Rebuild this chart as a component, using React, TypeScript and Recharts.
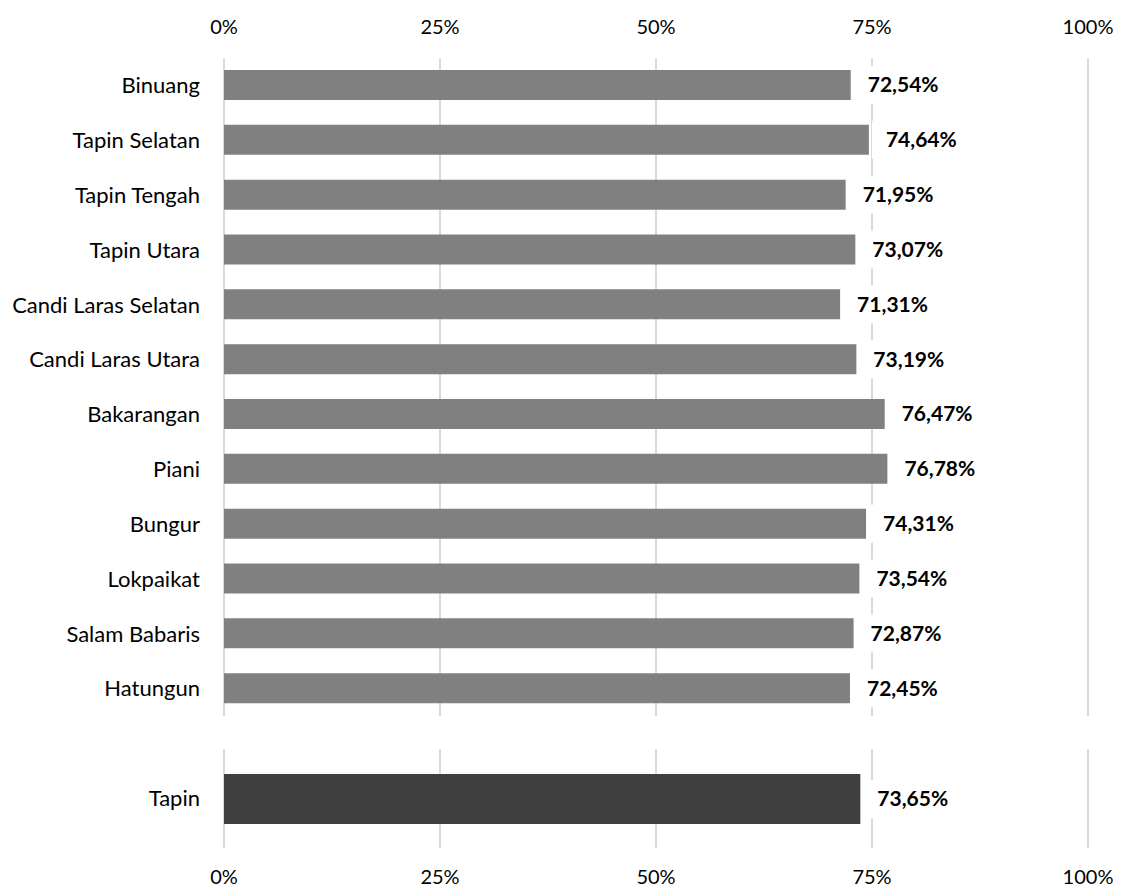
import React from 'react';
import { BarChart, Bar, XAxis, YAxis, CartesianGrid, LabelList } from 'recharts';

const kecamatan = [
  'Binuang',
  'Tapin Selatan',
  'Tapin Tengah',
  'Tapin Utara',
  'Candi Laras Selatan',
  'Candi Laras Utara',
  'Bakarangan',
  'Piani',
  'Bungur',
  'Lokpaikat',
  'Salam Babaris',
  'Hatungun',
];
const persen = [72.54, 74.64, 71.95, 73.07, 71.31, 73.19, 76.47, 76.78, 74.31, 73.54, 72.87, 72.45];

const kabupaten = ['Tapin'];
const persenKabupaten = [73.65];

const xTicks = [0, 25, 50, 75, 100];

const FONT = 'Lato, "Open Sans", sans-serif';

const topData = kecamatan.map((name, i) => ({ name, value: persen[i] }));
const bottomData = kabupaten.map((name, i) => ({ name, value: persenKabupaten[i] }));

const fmt = (v: number) => v.toFixed(2).replace('.', ',') + '%';

const tickStyle = { fontSize: 20, fill: '#000', fontFamily: FONT };
const catStyle = { fontSize: 22, fill: '#000', fontFamily: FONT };

// label with white box behind it, like the excel one (it hides the 75% gridline)
const ValueLabel = (props: any) => {
  const { x, y, width, height, value } = props;
  const cy = y + height / 2;
  const left = x + width;
  return (
    <g>
      <rect x={left + 3} y={cy - 19} width={95} height={38} fill="#fff" />
      <text x={left + 17} y={cy} dy="0.35em" fontSize={21} fontWeight={700} fill="#000" fontFamily={FONT}>
        {fmt(value)}
      </text>
    </g>
  );
};

const App: React.FC = () => {
  return (
    <div style={{ position: 'absolute', left: 0, top: 0, width: 1121, height: 889, background: '#fff' }}>
      <BarChart
        width={1121}
        height={716}
        layout="vertical"
        data={topData}
        margin={{ top: 0, right: 33, bottom: 0, left: 0 }}
        barSize={30}
      >
        <CartesianGrid horizontal={false} stroke="#d9d9d9" strokeWidth={2} />
        <XAxis
          type="number"
          orientation="top"
          domain={[0, 100]}
          ticks={xTicks}
          interval={0}
          tickFormatter={(v) => `${v}%`}
          axisLine={false}
          tickLine={false}
          height={58}
          tickSize={22}
          tickMargin={2}
          tick={tickStyle}
        />
        <YAxis
          type="category"
          dataKey="name"
          width={224}
          interval={0}
          axisLine={false}
          tickLine={false}
          tickSize={20}
          tickMargin={4}
          tick={catStyle}
        />
        <Bar dataKey="value" fill="#808080" isAnimationActive={false}>
          <LabelList dataKey="value" content={ValueLabel} />
        </Bar>
      </BarChart>
      <BarChart
        width={1121}
        height={173}
        layout="vertical"
        data={bottomData}
        margin={{ top: 33, right: 33, bottom: 0, left: 0 }}
        barSize={50}
      >
        <CartesianGrid horizontal={false} stroke="#d9d9d9" strokeWidth={2} />
        <XAxis
          type="number"
          orientation="bottom"
          domain={[0, 100]}
          ticks={xTicks}
          interval={0}
          tickFormatter={(v) => `${v}%`}
          axisLine={false}
          tickLine={false}
          height={41}
          tickSize={20}
          tickMargin={2}
          tick={tickStyle}
        />
        <YAxis
          type="category"
          dataKey="name"
          width={224}
          interval={0}
          axisLine={false}
          tickLine={false}
          tickSize={20}
          tickMargin={4}
          tick={catStyle}
        />
        <Bar dataKey="value" fill="#404040" isAnimationActive={false}>
          <LabelList dataKey="value" content={ValueLabel} />
        </Bar>
      </BarChart>
    </div>
  );
};

export default App;
